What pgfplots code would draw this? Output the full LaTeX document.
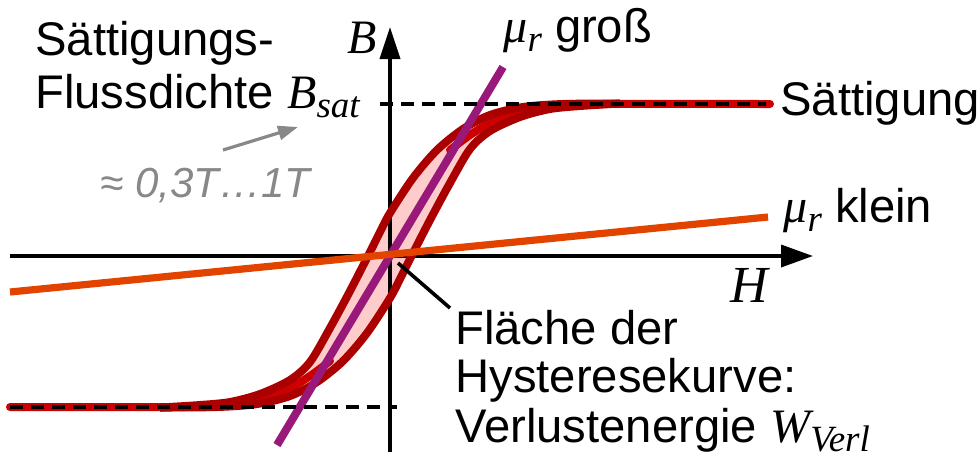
\documentclass[border=0pt]{standalone}
\usepackage{pgfplots}
\pgfplotsset{compat=1.18}
\usepackage{fontspec}
\setmainfont{Liberation Sans}
\newfontfamily\serif{Liberation Serif}
\usetikzlibrary{arrows.meta}
\definecolor{dred}{RGB}{170,0,0}
\definecolor{bred}{RGB}{204,0,0}
\definecolor{lpink}{RGB}{255,204,204}
\definecolor{mpurple}{RGB}{153,25,123}
\definecolor{morange}{RGB}{226,68,0}
\definecolor{tgray}{RGB}{136,136,136}
\newcommand{\txt}{\fontsize{23.6}{24}\selectfont}
\newcommand{\mth}[1]{{\serif\itshape\fontsize{24}{24}\selectfont #1}}
\newcommand{\subs}[1]{\raisebox{-4.5pt}{\serif\itshape\fontsize{18.5}{18.5}\selectfont #1}}
\begin{document}
\begin{tikzpicture}
\begin{axis}[scale only axis, width=490pt, height=235.5pt,
  xmin=0, xmax=980, ymin=0, ymax=471, y dir=reverse,
  hide axis, clip=false]
\path (rel axis cs:0,0) rectangle (rel axis cs:1,1);
% loop area
\addplot[draw=none, fill=lpink, smooth] coordinates {
 (200,405) (230,402) (260,394) (290,380) (310,362) (330,328) (350,291) (370,252) (380,232) (390,213) (413,178) (437,150) (463,129) (490,115) (523,107) (563,104)
 (580,106) (550,109) (520,117) (490,131) (470,149) (450,183) (430,220) (410,259) (400,279) (390,298) (367,333) (343,361) (317,382) (290,396) (257,404) (217,407) (200,405)};
% axes
\addplot[black, line width=1.8pt, -{Triangle[length=16pt,width=10pt]}] coordinates {(390,452) (390,27)};
\addplot[black, line width=1.8pt, -{Triangle[length=16pt,width=11pt]}] coordinates {(10,256) (813,256)};
% saturation tails
\addplot[bred, line width=4pt, smooth, line cap=round] coordinates {(450,150) (470,135) (495,120) (525,110) (560,105) (600,104) (770,104)};
\addplot[bred, line width=4pt, smooth, line cap=round] coordinates {(330,361) (310,376) (285,391) (255,401) (220,406) (180,407) (10,407)};
% hysteresis branches
\addplot[dred, line width=4pt, smooth] coordinates {
 (160,407.5) (200,405) (230,402) (260,394) (290,380) (310,362) (330,328) (350,291) (370,252) (380,232) (390,213) (413,178) (437,150) (463,129) (490,115) (523,107) (563,104) (620,103.5)};
\addplot[dred, line width=4pt, smooth] coordinates {
 (620,103.5) (580,106) (550,109) (520,117) (490,131) (470,149) (450,183) (430,220) (410,259) (400,279) (390,298) (367,333) (343,361) (317,382) (290,396) (257,404) (217,407) (160,407.5)};
% permeability lines
\addplot[mpurple, line width=4pt] coordinates {(277,445) (503,67)};
\addplot[morange, line width=3.6pt] coordinates {(10,292) (768,217)};
% saturation dashed lines
\addplot[black, line width=2pt, dash pattern=on 6.5pt off 4pt] coordinates {(380,104) (766,104)};
\addplot[black, line width=2pt, dash pattern=on 6.5pt off 4pt] coordinates {(10,407) (397,407)};
% pointers
\addplot[black, line width=1.8pt] coordinates {(398,263) (450,308)};
\addplot[tgray, line width=1.6pt, -{Triangle[length=10pt,width=7pt]}] coordinates {(223,150) (298,127)};
% texts
\node[anchor=base west, inner sep=0] at (axis cs:35,55) {\txt Sättigungs-};
\node[anchor=base west, inner sep=0] at (axis cs:35,108) {\txt Flussdichte \mth{B}\subs{sat}};
\node[anchor=base west, inner sep=0, text=tgray] at (axis cs:100,197) {\fontsize{21}{21}\selectfont\itshape ≈ 0,3T…1T};
\node[anchor=base west, inner sep=0] at (axis cs:347,53) {\mth{B}};
\node[anchor=base west, inner sep=0] at (axis cs:503,42) {\txt\mth{μ}\subs{r} groß};
\node[anchor=base west, inner sep=0] at (axis cs:780,115) {\txt Sättigung};
\node[anchor=base west, inner sep=0] at (axis cs:783,222) {\txt\mth{μ}\subs{r} klein};
\node[anchor=base west, inner sep=0] at (axis cs:730,302) {\serif\itshape\fontsize{26}{26}\selectfont H};
\node[anchor=base west, inner sep=0] at (axis cs:455,344) {\txt Fläche der};
\node[anchor=base west, inner sep=0] at (axis cs:455,392) {\txt Hysteresekurve:};
\node[anchor=base west, inner sep=0] at (axis cs:455,442) {\txt Verlustenergie \mth{W}\subs{Verl}};
\end{axis}
\end{tikzpicture}
\end{document}
